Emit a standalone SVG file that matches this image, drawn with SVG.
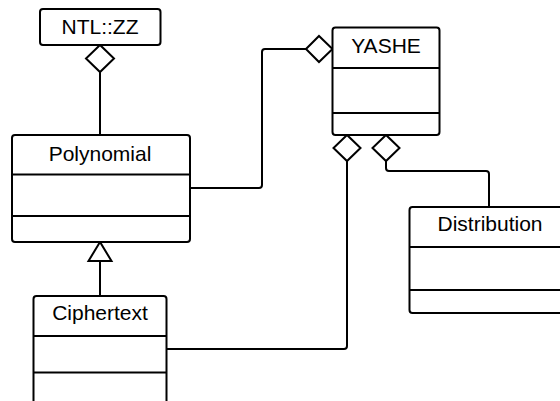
<svg xmlns="http://www.w3.org/2000/svg" width="560" height="401" viewBox="0 0 560 401">
<style>
.box{fill:#fff;stroke:#000;stroke-width:2}
.div{stroke:#000;stroke-width:2;fill:none}
.lbl{font-family:"Liberation Sans",Arial,sans-serif;font-size:21px;fill:#000;text-anchor:middle}
.con{fill:none;stroke:#000;stroke-width:2;stroke-linejoin:round}
.dia{fill:#fff;stroke:#000;stroke-width:2;stroke-linejoin:miter}
</style>
<rect width="560" height="401" fill="#fff"/>
<g id="connectors">
<path class="con" d="M100,72 V135"/>
<polygon class="dia" points="100,45 86,58.5 100,72 114,58.5"/>
<path class="con" d="M190,188 H259 Q262,188 262,185 V52 Q262,49 265,49 H306"/>
<polygon class="dia" points="306,49 319,36 332.5,49 319,62"/>
<path class="con" d="M100,261 V296"/>
<polygon class="dia" points="100,242 88.5,261 111.5,261"/>
<path class="con" d="M167,349 H344 Q347,349 347,346 V161"/>
<polygon class="dia" points="347,135 333.5,148 347,161 360.5,148"/>
<path class="con" d="M386,161 V168 Q386,171 389,171 H486 Q489,171 489,174 V207"/>
<polygon class="dia" points="386,135 372.5,148 386,161 399.5,148"/>
</g>
<g id="ntl_zz">
<rect class="box" x="40" y="9" width="120.5" height="36" rx="3"/>
<text class="lbl" x="100" y="34">NTL::ZZ</text>
</g>
<g id="polynomial">
<rect class="box" x="12" y="135" width="178" height="107" rx="3"/>
<path class="div" d="M12,174.5 H190 M12,216 H190"/>
<text class="lbl" x="100" y="160.5">Polynomial</text>
</g>
<g id="ciphertext">
<rect class="box" x="33.5" y="296" width="133" height="108" rx="3"/>
<path class="div" d="M33.5,336 H166.5 M33.5,372.5 H166.5"/>
<text class="lbl" x="100" y="320">Ciphertext</text>
</g>
<g id="yashe">
<rect class="box" x="332.5" y="27.5" width="107" height="107.5" rx="3"/>
<path class="div" d="M332.5,68 H439.5 M332.5,113 H439.5"/>
<text class="lbl" x="386" y="52.5">YASHE</text>
</g>
<g id="distribution">
<rect class="box" x="409.5" y="207" width="160.5" height="106" rx="3"/>
<path class="div" d="M409.5,247 H570 M409.5,290 H570"/>
<text class="lbl" x="490" y="231">Distribution</text>
</g>
</svg>
